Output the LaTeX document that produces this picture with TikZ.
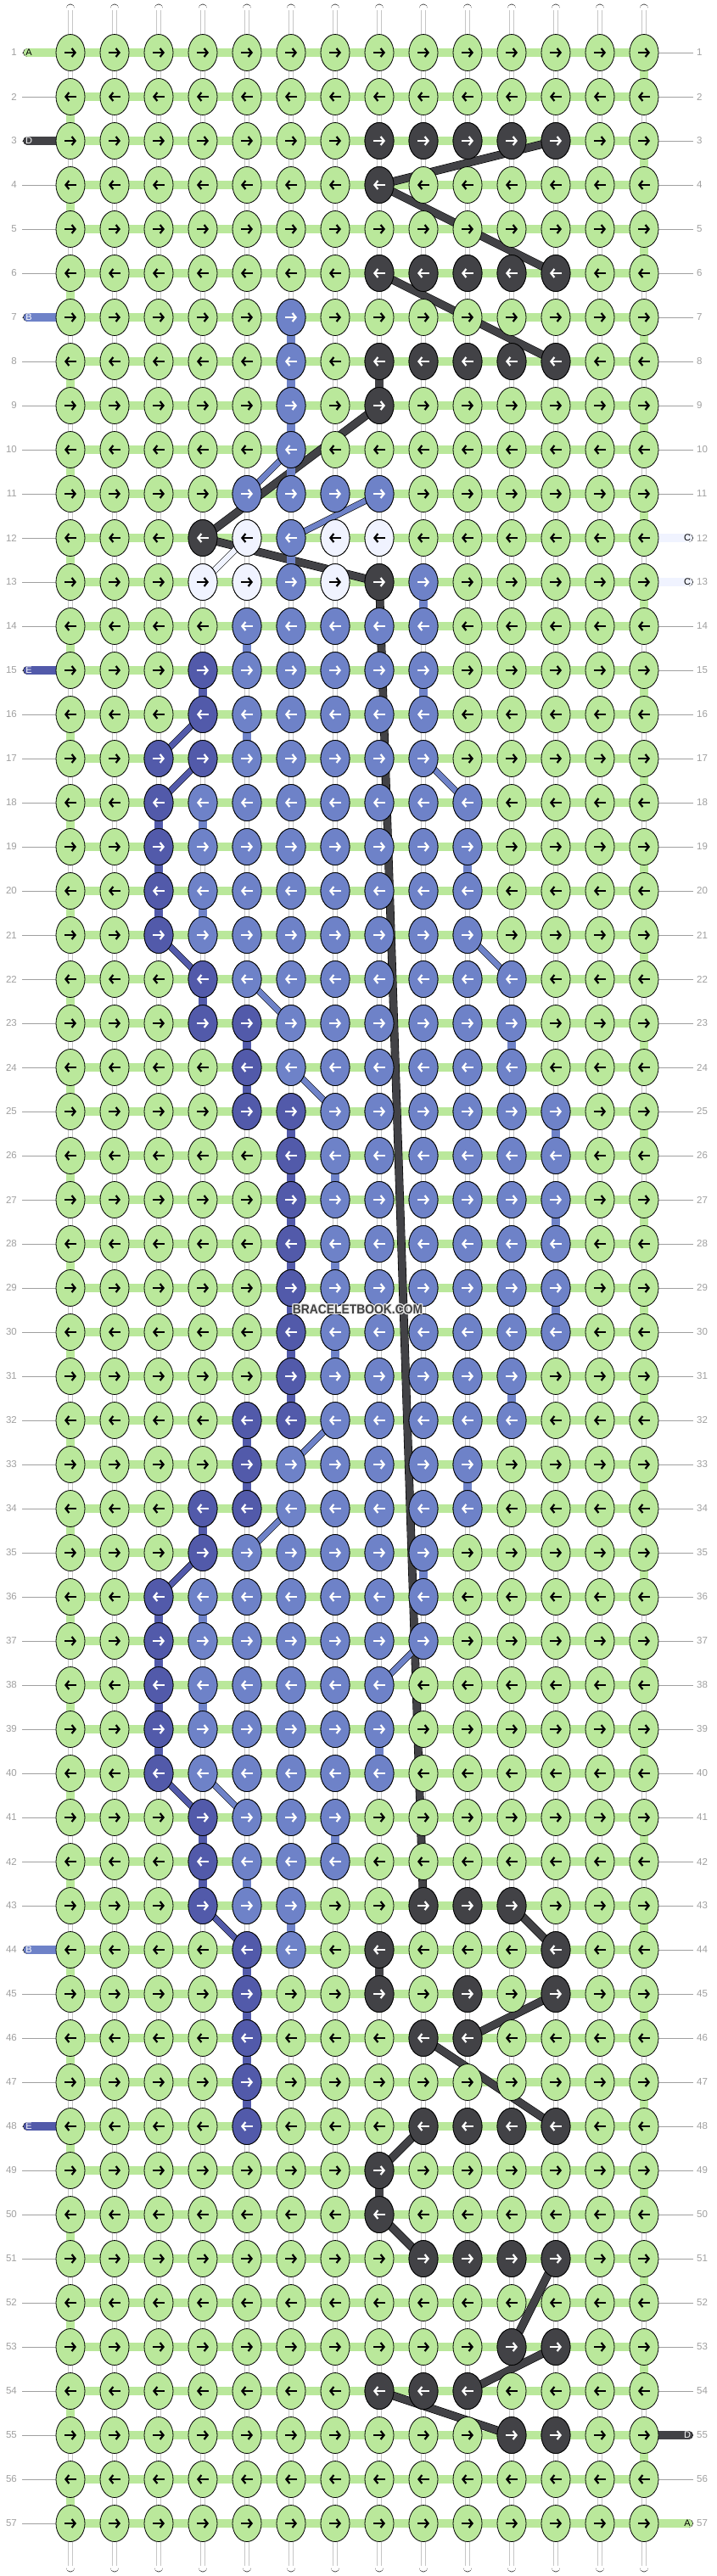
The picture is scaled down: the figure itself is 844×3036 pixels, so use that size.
\documentclass[tikz,border=0pt]{standalone}
\usepackage{fontspec}
\setmainfont{Liberation Sans}
\usetikzlibrary{shapes.geometric,arrows.meta}

\definecolor{bgreen}{RGB}{186,232,155}
\definecolor{bdark}{RGB}{66,66,70}
\definecolor{bblue}{RGB}{110,130,200}
\definecolor{bnavy}{RGB}{82,90,170}
\definecolor{bwhite}{RGB}{240,243,255}
\definecolor{bgray}{RGB}{160,160,160}

\tikzset{
  warp/.style={draw=black, double=white, double distance=9.4pt, line width=0.7pt, line cap=round},
  warpmid/.style={draw=gray!45, line width=0.5pt},
  vlink/.style={draw=black, double=#1, double distance=9.4pt, line width=0.7pt},
  hlink/.style={draw=black, double=#1, double distance=9.4pt, line width=0.7pt},
  stub/.style={draw=black, double=#1, double distance=9.4pt, line width=0.7pt, line cap=round},
  strand/.style={draw=black, double=#1, double distance=8.4pt, line width=0.6pt},
  thinstrand/.style={draw=black, double=#1, double distance=6.4pt, line width=0.6pt},
  knot/.style={ellipse, draw=black, line width=0.8pt, minimum width=34pt, minimum height=43pt, inner sep=0pt},
  arr/.style={line width=2.2pt, -{Straight Barb[length=4pt,width=10pt]}},
  rownum/.style={text=bgray, font=\fontsize{11.5}{12}\selectfont, inner sep=0pt},
  stubtag/.style={font=\fontsize{11}{12}\selectfont, inner sep=0pt},
  rowline/.style={draw=bgray, line width=0.8pt},
  marktext/.style={font=\bfseries\fontsize{15.4}{16}\selectfont, xscale=0.9, inner sep=0pt}
}

% one knot: column, row, fill, arrow colour
\newcommand{\knotat}[4]{%
  \node[knot, fill=#3] (k-#1-#2) at (p-#1-#2) {};
  \ifodd#2\relax \def\arrfrom{-7pt}\def\arrto{7pt}\else \def\arrfrom{7pt}\def\arrto{-7pt}\fi
  \draw[arr, #4] ([xshift=\arrfrom]k-#1-#2.center) -- ([xshift=\arrto]k-#1-#2.center);
}

\begin{document}
\begin{tikzpicture}[x=1pt, y=-1pt]
\fill[white] (0,0) rectangle (844,3036);
\useasboundingbox (0,0) rectangle (844,3036);

% grid points
\foreach \r in {1,...,57} {
  \foreach \c in {1,...,14} {
    \coordinate (p-\c-\r) at ({83+52*(\c-1)},{62+52*(\r-1)});
  }
  \coordinate (ln-\r) at (26,{62+52*(\r-1)});
  \coordinate (rn-\r) at (817,{62+52*(\r-1)});
  \coordinate (ls-\r) at (32.5,{62+52*(\r-1)});
  \coordinate (rs-\r) at (811.5,{62+52*(\r-1)});
}
\foreach \c in {1,...,14} {
  \coordinate (top-\c) at ({83+52*(\c-1)},10);
  \coordinate (bot-\c) at ({83+52*(\c-1)},3026);
}

% warp strings
\foreach \c in {1,...,14} {
  \draw[warp] (top-\c) -- (bot-\c);
  \draw[warpmid] ([xshift=-2.6pt,yshift=-2pt]top-\c) -- ([xshift=-2.6pt,yshift=2pt]bot-\c);
  \draw[warpmid] ([xshift=2.6pt,yshift=-2pt]top-\c) -- ([xshift=2.6pt,yshift=2pt]bot-\c);
}

% row lines and rows
\foreach \r in {1,...,57} {
  \draw[rowline] (ln-\r) -- (p-1-\r);
  \draw[rowline] (p-14-\r) -- (rn-\r);
  \draw[hlink=bgreen] (p-1-\r) -- (p-14-\r);
}

% start and end strings
\foreach \r/\kc in {1/bgreen, 3/bdark, 7/bblue, 15/bnavy, 44/bblue, 48/bnavy} {
  \draw[stub=\kc] (ls-\r) -- (p-1-\r);
}
\foreach \r/\kc in {12/bwhite, 13/bwhite, 55/bdark, 57/bgreen} {
  \draw[stub=\kc] (p-14-\r) -- (rs-\r);
}

% carried strands
\foreach \a/\b in {12-3/8-4, 8-4/12-6, 8-6/12-8, 8-9/4-12, 4-12/8-13, 8-13/9-43,
    11-43/12-44, 12-45/10-46, 9-46/12-48, 9-48/8-49, 8-50/9-51, 12-51/11-53,
    12-53/10-54, 8-54/11-55} {
  \draw[strand=bdark] (p-\a) -- (p-\b);
}
\foreach \a/\b in {6-10/5-11, 8-11/6-12, 9-17/10-18, 10-21/11-22, 5-22/6-23,
    6-24/7-25, 7-32/6-33, 6-34/5-35, 9-37/8-38, 4-40/5-41} {
  \draw[thinstrand=bblue] (p-\a) -- (p-\b);
}
\foreach \a/\b in {4-16/3-17, 4-17/3-18, 3-21/4-22, 4-35/3-36, 3-40/4-41, 4-43/5-44} {
  \draw[thinstrand=bnavy] (p-\a) -- (p-\b);
}
\draw[thinstrand=bwhite] (p-5-12) -- (p-4-13);

% turns at the edges
\foreach \r in {2,4,...,56} {
  \pgfmathtruncatemacro\rn{\r+1}
  \draw[vlink=bgreen] (p-1-\r) -- (p-1-\rn);
}
\foreach \r in {1,3,...,55} {
  \pgfmathtruncatemacro\rn{\r+1}
  \draw[vlink=bgreen] (p-14-\r) -- (p-14-\rn);
}

% coloured links between rows
\foreach \c/\r/\kc in {6/7/bblue, 6/8/bblue, 6/9/bblue, 6/10/bblue, 6/12/bblue,
    9/13/bblue, 9/15/bblue, 5/14/bblue, 5/16/bblue, 4/18/bblue, 4/20/bblue,
    10/19/bblue, 11/23/bblue, 12/25/bblue, 12/27/bblue, 12/29/bblue, 7/26/bblue,
    7/28/bblue, 7/30/bblue, 11/31/bblue, 10/33/bblue, 9/35/bblue, 4/36/bblue,
    4/38/bblue, 8/39/bblue, 7/41/bblue, 5/42/bblue, 6/43/bblue,
    4/15/bnavy, 3/18/bnavy, 3/19/bnavy, 3/20/bnavy, 4/22/bnavy, 5/23/bnavy,
    5/24/bnavy, 6/25/bnavy, 6/26/bnavy, 6/27/bnavy, 6/28/bnavy, 6/29/bnavy,
    6/30/bnavy, 6/31/bnavy, 5/32/bnavy, 5/33/bnavy, 4/34/bnavy, 3/36/bnavy,
    3/37/bnavy, 3/38/bnavy, 3/39/bnavy, 4/41/bnavy, 4/42/bnavy, 5/44/bnavy,
    5/45/bnavy, 5/46/bnavy, 5/47/bnavy,
    8/8/bdark, 8/44/bdark, 8/49/bdark} {
  \pgfmathtruncatemacro\rn{\r+1}
  \draw[vlink=\kc] (p-\c-\r) -- (p-\c-\rn);
}

% knots
\foreach \r in {1,...,57} {
  \foreach \c in {1,...,14} {
    \knotat{\c}{\r}{bgreen}{black}
  }
}
\foreach \r/\a/\b/\kc/\ac in {3/8/12/bdark/white, 4/8/8/bdark/white, 6/8/12/bdark/white,
    7/6/6/bblue/white, 8/6/6/bblue/white, 8/8/12/bdark/white,
    9/6/6/bblue/white, 9/8/8/bdark/white, 10/6/6/bblue/white, 11/5/8/bblue/white,
    12/4/4/bdark/white, 12/5/5/bwhite/black, 12/6/6/bblue/white, 12/7/8/bwhite/black,
    13/4/5/bwhite/black, 13/6/6/bblue/white, 13/7/7/bwhite/black, 13/8/8/bdark/white,
    13/9/9/bblue/white, 14/5/9/bblue/white,
    15/4/4/bnavy/white, 15/5/9/bblue/white, 16/4/4/bnavy/white, 16/5/9/bblue/white,
    17/3/4/bnavy/white, 17/5/9/bblue/white,
    18/3/3/bnavy/white, 18/4/10/bblue/white, 19/3/3/bnavy/white, 19/4/10/bblue/white,
    20/3/3/bnavy/white, 20/4/10/bblue/white, 21/3/3/bnavy/white, 21/4/10/bblue/white,
    22/4/4/bnavy/white, 22/5/11/bblue/white, 23/4/5/bnavy/white, 23/6/11/bblue/white,
    24/5/5/bnavy/white, 24/6/11/bblue/white, 25/5/6/bnavy/white, 25/7/12/bblue/white,
    26/6/6/bnavy/white, 26/7/12/bblue/white, 27/6/6/bnavy/white, 27/7/12/bblue/white,
    28/6/6/bnavy/white, 28/7/12/bblue/white, 29/6/6/bnavy/white, 29/7/12/bblue/white,
    30/6/6/bnavy/white, 30/7/12/bblue/white, 31/6/6/bnavy/white, 31/7/11/bblue/white,
    32/5/6/bnavy/white, 32/7/11/bblue/white, 33/5/5/bnavy/white, 33/6/10/bblue/white,
    34/4/5/bnavy/white, 34/6/10/bblue/white, 35/4/4/bnavy/white, 35/5/9/bblue/white,
    36/3/3/bnavy/white, 36/4/9/bblue/white, 37/3/3/bnavy/white, 37/4/9/bblue/white,
    38/3/3/bnavy/white, 38/4/8/bblue/white, 39/3/3/bnavy/white, 39/4/8/bblue/white,
    40/3/3/bnavy/white, 40/4/8/bblue/white, 41/4/4/bnavy/white, 41/5/7/bblue/white,
    42/4/4/bnavy/white, 42/5/7/bblue/white,
    43/4/4/bnavy/white, 43/5/6/bblue/white, 43/9/11/bdark/white,
    44/5/5/bnavy/white, 44/6/6/bblue/white, 44/8/8/bdark/white, 44/12/12/bdark/white,
    45/5/5/bnavy/white, 45/8/8/bdark/white, 45/10/10/bdark/white, 45/12/12/bdark/white,
    46/5/5/bnavy/white, 46/9/10/bdark/white, 47/5/5/bnavy/white,
    48/5/5/bnavy/white, 48/9/12/bdark/white, 49/8/8/bdark/white, 50/8/8/bdark/white,
    51/9/12/bdark/white, 53/11/12/bdark/white, 54/8/10/bdark/white, 55/11/12/bdark/white} {
  \foreach \c in {\a,...,\b} {
    \knotat{\c}{\r}{\kc}{\ac}
  }
}

% row numbers
\foreach \r in {1,...,57} {
  \node[rownum, anchor=east] (lnum-\r) at ([xshift=-6pt]ln-\r) {\r};
  \node[rownum, anchor=west] (rnum-\r) at ([xshift=4pt]rn-\r) {\r};
}

% string letters
\foreach \r/\t/\tc in {1/A/black, 3/D/white, 7/B/white, 15/E/white, 44/B/white, 48/E/white} {
  \node[stubtag, text=\tc] (ltag-\r) at ([xshift=1.5pt]ls-\r) {\t};
}
\foreach \r/\t/\tc in {12/C/black, 13/C/black, 55/D/white, 57/A/black} {
  \node[stubtag, text=\tc] (rtag-\r) at ([xshift=-1.5pt]rs-\r) {\t};
}

% watermark
\coordinate (markpos) at (421.5,1543);
\foreach \dx/\dy [count=\i] in {-1.2/0, 1.2/0, 0/-1.2, 0/1.2, -0.9/-0.9, 0.9/0.9, -0.9/0.9, 0.9/-0.9} {
  \node[marktext, text=white!85!gray] (halo-\i) at ([xshift=\dx pt, yshift=\dy pt]markpos) {BRACELETBOOK.COM};
}
\node[marktext, text=black!75] (mark) at (markpos) {BRACELETBOOK.COM};
\end{tikzpicture}
\end{document}
